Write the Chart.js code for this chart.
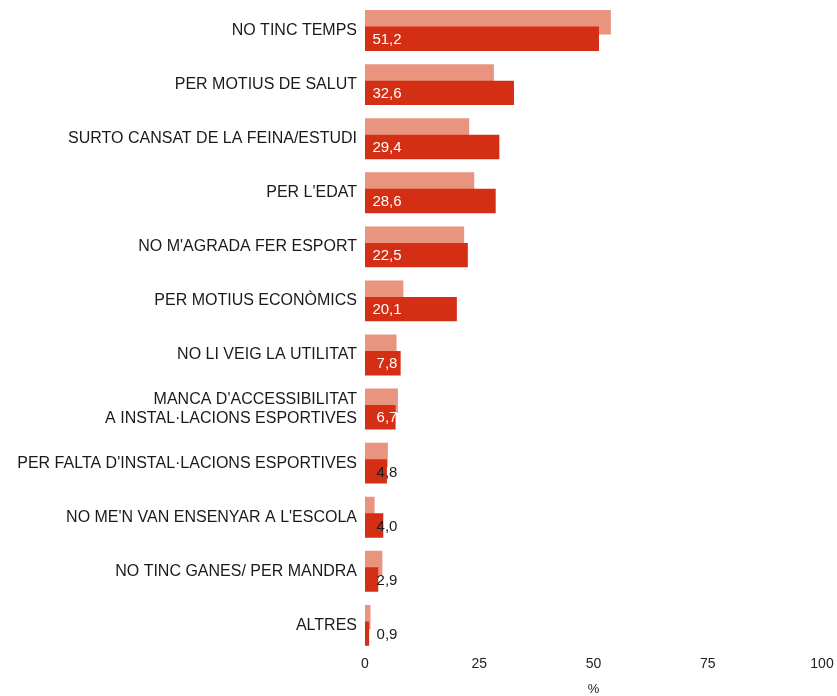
<!DOCTYPE html>
<html>
<head>
<meta charset="utf-8">
<script src="https://cdn.jsdelivr.net/npm/chart.js@4.4.0/dist/chart.umd.min.js"></script>
<style>
  html, body { margin: 0; padding: 0; background: #fff; }
  #wrap { width: 837px; height: 696px; }
</style>
</head>
<body>
<div id="wrap"><canvas id="myChart"></canvas></div>
<script>
// categories (top to bottom)
const categories = [
  'NO TINC TEMPS',
  'PER MOTIUS DE SALUT',
  'SURTO CANSAT DE LA FEINA/ESTUDI',
  "PER L'EDAT",
  "NO M'AGRADA FER ESPORT",
  'PER MOTIUS ECONÒMICS',
  'NO LI VEIG LA UTILITAT',
  ["MANCA D'ACCESSIBILITAT", 'A INSTAL·LACIONS ESPORTIVES'],
  "PER FALTA D'INSTAL·LACIONS ESPORTIVES",
  "NO ME'N VAN ENSENYAR A L'ESCOLA",
  'NO TINC GANES/ PER MANDRA',
  'ALTRES'
];
// light bars (earlier survey)
const previousValues = [53.8, 28.2, 22.8, 23.9, 21.7, 8.4, 6.9, 7.2, 5.0, 2.1, 3.8, 1.2];
// dark bars (labelled)
const currentValues = [51.2, 32.6, 29.4, 28.6, 22.5, 20.1, 7.8, 6.7, 4.8, 4.0, 2.9, 0.9];
const xTicks = [0, 25, 50, 75, 100];

const ctx = document.getElementById('myChart');
const font = '"Liberation Sans", Arial, sans-serif';

// writes the value of each dark bar near the start of the bar
const valueLabels = {
  id: 'valueLabels',
  afterDatasetsDraw(chart) {
    const meta = chart.getDatasetMeta(1);
    const x0 = chart.scales.x.getPixelForValue(0);
    const c = chart.ctx;
    c.save();
    c.font = '15px ' + font;
    c.textAlign = 'center';
    c.textBaseline = 'middle';
    meta.data.forEach((bar, i) => {
      const v = currentValues[i];
      c.fillStyle = v > 6 ? '#ffffff' : '#1a1a1a';
      c.fillText(v.toFixed(1).replace('.', ','), x0 + 22, bar.y + 1);
    });
    c.restore();
  }
};

new Chart(ctx, {
  type: 'bar',
  data: {
    labels: categories,
    datasets: [
      // empty helper so the dark bar sits below but is painted over the light one
      { label: '', data: [], stack: 'a' },
      {
        label: 'Actual',
        data: currentValues,
        stack: 'b',
        backgroundColor: '#d42e14',
        borderWidth: 0
      },
      {
        label: 'Anterior',
        data: previousValues,
        stack: 'a',
        backgroundColor: '#e8947e',
        borderWidth: 0
      }
    ]
  },
  options: {
    indexAxis: 'y',
    responsive: true,
    maintainAspectRatio: false,
    animation: false,
    categoryPercentage: 0.61,
    barPercentage: 1.48,
    layout: { padding: { top: 3.5, right: 15, bottom: 0, left: 0 } },
    plugins: {
      legend: { display: false },
      tooltip: { enabled: false }
    },
    scales: {
      x: {
        stacked: false,
        min: 0,
        max: 100,
        afterBuildTicks: (scale) => { scale.ticks = xTicks.map(v => ({ value: v })); },
        afterFit: (scale) => {
          scale.paddingLeft = 0;
          scale.paddingRight = 0;
        },
        grid: { display: false, drawTicks: false },
        border: { display: false },
        ticks: {
          padding: 4.8,
          color: '#222',
          font: { family: font, size: 14, lineHeight: 1 }
        },
        title: {
          display: true,
          text: '%',
          color: '#222',
          padding: { top: 7, bottom: 0 },
          font: { family: font, size: 13, lineHeight: 1 }
        }
      },
      y: {
        grid: { display: false, drawTicks: false },
        border: { display: false },
        afterFit: (scale) => {
          scale.width = 365;
          scale.paddingTop = 0;
          scale.paddingBottom = 0;
        },
        ticks: {
          padding: 8,
          color: '#1a1a1a',
          font: { family: font, size: 16, lineHeight: 1.2 }
        }
      }
    }
  },
  plugins: [valueLabels]
});
</script>
</body>
</html>
